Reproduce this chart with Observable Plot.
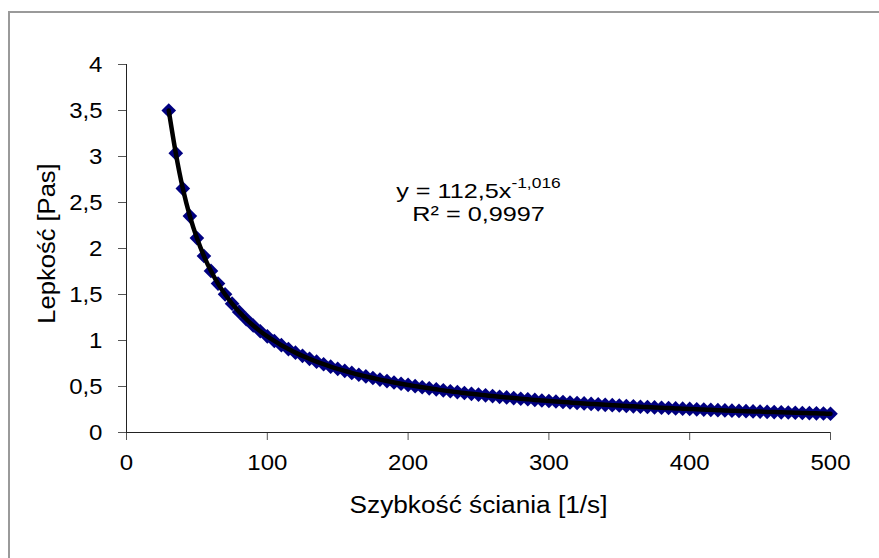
<!DOCTYPE html>
<html>
<head>
<meta charset="utf-8">
<script src="https://cdn.jsdelivr.net/npm/d3@7"></script>
<script src="https://cdn.jsdelivr.net/npm/@observablehq/plot@0.6"></script>
<style>
  html, body { margin: 0; padding: 0; background: #fff; overflow: hidden; }
  #wrap { position: relative; width: 879px; height: 558px; overflow: hidden; }
  #wrap svg { position: absolute; left: 0; top: 0; }
  #frame { position: absolute; left: 8px; top: 11px; width: 1000px; height: 1000px;
           border-left: 2px solid #9a9a9a; border-top: 2px solid #9a9a9a; pointer-events: none; }
</style>
</head>
<body>
<div id="wrap"><div id="frame"></div></div>
<script>
// Shear rate [1/s]
const shearRate = [30,35,40,45,50,55,60,65,70,75,80,85,90,95,100,105,110,115,120,125,130,135,140,145,150,155,160,165,170,175,180,185,190,195,200,205,210,215,220,225,230,235,240,245,250,255,260,265,270,275,280,285,290,295,300,305,310,315,320,325,330,335,340,345,350,355,360,365,370,375,380,385,390,395,400,405,410,415,420,425,430,435,440,445,450,455,460,465,470,475,480,485,490,495,500];
// Viscosity [Pas]
const viscosity = [3.50,3.036,2.651,2.352,2.113,1.918,1.756,1.619,1.502,1.400,1.311,1.233,1.163,1.101,1.045,0.995,0.949,0.907,0.868,0.833,0.801,0.770,0.742,0.716,0.692,0.670,0.648,0.628,0.610,0.592,0.575,0.559,0.544,0.530,0.517,0.504,0.492,0.480,0.469,0.458,0.448,0.439,0.429,0.420,0.412,0.404,0.396,0.388,0.381,0.374,0.367,0.361,0.354,0.348,0.342,0.337,0.331,0.326,0.321,0.316,0.311,0.306,0.301,0.297,0.293,0.288,0.284,0.280,0.277,0.273,0.269,0.266,0.262,0.259,0.256,0.252,0.249,0.246,0.243,0.240,0.237,0.235,0.232,0.229,0.227,0.224,0.222,0.219,0.217,0.215,0.212,0.210,0.208,0.206,0.204];

const xTicks = [0,100,200,300,400,500];
const yTicks = [0,0.5,1,1.5,2,2.5,3,3.5,4];
const xTitle = "Szybkość ściania [1/s]";
const yTitle = "Lepkość [Pas]";
const eqMain = "y = 112,5x";
const eqExp = "-1,016";
const eqR2 = "R² = 0,9997";

const data = shearRate.map((x, i) => ({x, y: viscosity[i]}));
const fmt = d => String(d).replace(".", ",");

const chart = Plot.plot({
  width: 879,
  height: 558,
  marginLeft: 126,
  marginRight: 49,
  marginTop: 64,
  marginBottom: 126,
  style: {fontFamily: "'Liberation Sans', Arial, sans-serif", fontSize: "22px", background: "transparent", color: "#000"},
  x: {domain: [0, 500]},
  y: {domain: [0, 4]},
  marks: [
    Plot.axisX({ticks: xTicks, tickSize: 8, tickPadding: 14, stroke: "#555", label: null}),
    Plot.axisY({ticks: yTicks, tickSize: 8, tickPadding: 16, stroke: "#555", tickFormat: fmt, label: null}),
    Plot.ruleX([0], {stroke: "#222"}),
    Plot.ruleY([0], {stroke: "#222"}),
    Plot.dot(data, {x: "x", y: "y", symbol: "diamond2", r: 6.6, fill: "#000080", stroke: "none"}),
    Plot.line(data, {x: "x", y: "y", stroke: "#000", strokeWidth: 4.5, curve: "natural"}),
    Plot.text([xTitle], {text: d => d, frameAnchor: "bottom", textAnchor: "middle", lineAnchor: "bottom", dy: 80, fontSize: 23, className: "xtitle"}),
    Plot.text([yTitle], {text: d => d, frameAnchor: "left", textAnchor: "middle", lineAnchor: "bottom", rotate: -90, dx: -72, dy: -5, fontSize: 23, className: "ytitle"}),
    Plot.text([eqMain + eqExp], {text: d => d, frameAnchor: "top", textAnchor: "middle", lineAnchor: "bottom", dy: 133, fontSize: 21, className: "eqmain"}),
    Plot.text([eqR2], {text: d => d, frameAnchor: "top", textAnchor: "middle", lineAnchor: "bottom", dy: 156, fontSize: 21, className: "eqr2"})
  ]
});

// superscript exponent in the trend-line equation
const t = chart.querySelector("g.eqmain text");
if (t) {
  t.textContent = eqMain;
  const ts = document.createElementNS("http://www.w3.org/2000/svg", "tspan");
  ts.setAttribute("dy", "-9.5");
  ts.setAttribute("font-size", "14.5");
  ts.textContent = eqExp;
  t.appendChild(ts);
}

document.getElementById("wrap").insertBefore(chart, document.getElementById("frame"));

// widen glyphs slightly, like the reference's text
function stretch(selector, k) {
  chart.querySelectorAll(selector).forEach(el => {
    const w = el.getComputedTextLength();
    el.setAttribute("textLength", (w * k).toFixed(1));
    el.setAttribute("lengthAdjust", "spacingAndGlyphs");
  });
}
stretch('g[aria-label="x-axis tick label"] text', 1.09);
stretch('g[aria-label="y-axis tick label"] text', 1.09);
stretch("g.xtitle text", 1.14);
stretch("g.ytitle text", 1.11);
stretch("g.eqmain text", 1.2);
stretch("g.eqr2 text", 1.2);
</script>
</body>
</html>
